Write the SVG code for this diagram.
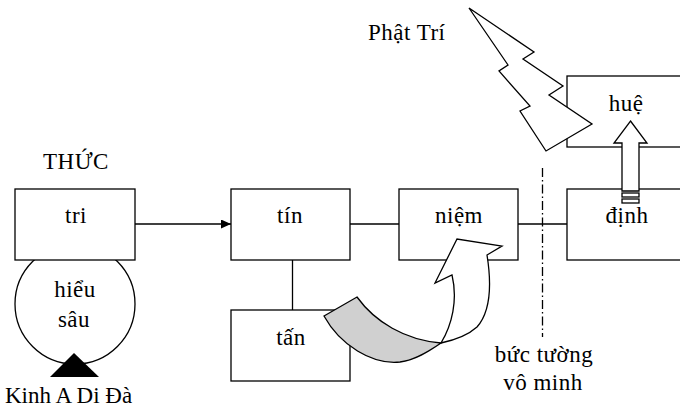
<svg xmlns="http://www.w3.org/2000/svg" width="680" height="410" viewBox="0 0 680 410">
<style>
.box{fill:#fff;stroke:#000;stroke-width:1.3}
.ln{fill:none;stroke:#000;stroke-width:1.3}
.t{font-family:"Liberation Serif","Times New Roman",serif;font-size:23px;fill:#000;letter-spacing:0.5px}
.m{text-anchor:middle}
</style>
<defs>
<marker id="ah" markerUnits="userSpaceOnUse" markerWidth="11" markerHeight="10" refX="10" refY="4.5" orient="auto">
<path d="M0,0 L10,4.5 L0,9 Z" fill="#000"/>
</marker>
</defs>
<rect width="680" height="410" fill="#fff"/>
<g id="connectors">
<line class="ln" x1="135" y1="224" x2="231" y2="224" marker-end="url(#ah)"/>
<line class="ln" x1="350" y1="224" x2="399" y2="224"/>
<line class="ln" x1="518" y1="224" x2="567" y2="224"/>
<line class="ln" x1="292.5" y1="260" x2="292.5" y2="310"/>
<line class="ln" x1="542.5" y1="168" x2="542.5" y2="337" stroke-dasharray="9 3 1.5 3" stroke-width="1"/>
</g>
<g id="hieu-sau">
<circle class="box" cx="75" cy="304" r="60"/>
<text class="t m" x="75" y="297">hiểu</text>
<text class="t m" x="74" y="327">sâu</text>
</g>
<g id="tri">
<rect class="box" x="15" y="189" width="120" height="71"/>
<text class="t m" x="76" y="223">tri</text>
</g>
<g id="thuc"><text class="t m" x="76" y="169">THỨC</text></g>
<g id="kinh">
<polygon points="74,353 99,377 50,377" fill="#000"/>
<text class="t" x="5" y="403" style="letter-spacing:0">Kinh A Di Đà</text>
</g>
<g id="tin">
<rect class="box" x="231" y="189" width="119" height="71"/>
<text class="t m" x="290" y="223">tín</text>
</g>
<g id="tan">
<rect class="box" x="231" y="310" width="119" height="71"/>
<text class="t m" x="291" y="345">tấn</text>
</g>
<g id="niem">
<rect class="box" x="399" y="189" width="119" height="71"/>
<text class="t m" x="459" y="223">niệm</text>
</g>
<g id="dinh">
<rect class="box" x="567" y="189" width="130" height="71"/>
<text class="t m" x="627" y="223">định</text>
</g>
<g id="hue">
<rect class="box" x="567" y="76" width="130" height="71"/>
<text class="t m" x="626" y="111">huệ</text>
</g>
<g id="phat-tri">
<polygon class="box" points="469,8 534,52 523,59 563,86 549,95 592,124 546,151 520,111 530,106 499,71 508,65"/>
<text class="t" x="368" y="40">Phật Trí</text>
</g>
<g id="up-arrow">
<polygon class="box" points="630.5,121 647,143 639,143 639,191 622,191 622,143 614,143"/>
<rect class="box" x="622" y="193" width="17" height="4"/>
<rect class="box" x="622" y="199" width="17" height="4"/>
</g>
<g id="curved-arrow">
<path d="M324,316 L357,297 C375,322 405,340 441,343 C428,352 415,360 400,362 C372,365 340,345 324,316 Z" fill="#d0d0d0" stroke="#000" stroke-width="1.3"/>
<path class="box" d="M441,343 C452,325 458,300 452,275 L435,283 L457,239 L502,246 L487,255 C491,280 492,310 477,327 C467,336 455,340 441,343 Z"/>
</g>
<g id="wall">
<text class="t m" x="544" y="362">bức tường</text>
<text class="t m" x="543" y="390">vô minh</text>
</g>
</svg>
